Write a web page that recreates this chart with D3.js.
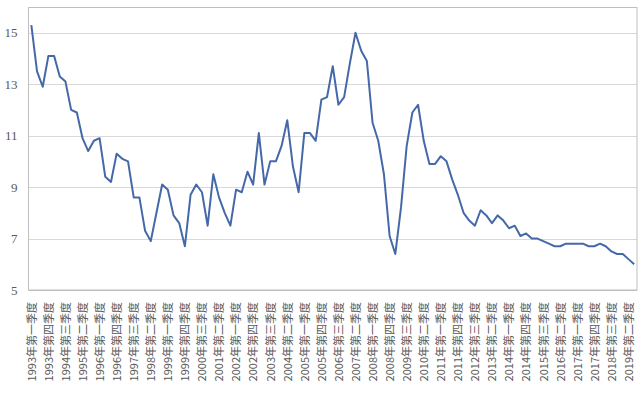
<!DOCTYPE html>
<html><head><meta charset="utf-8">
<script src="https://cdn.jsdelivr.net/npm/d3@7"></script>
<style>body{margin:0;background:#fff}svg{display:block}</style>
</head><body><svg id="c" width="643" height="396"></svg>
<script>
const years = d3.range(1993, 2020);
const quarterNames = ["一", "二", "三", "四"];
const categories = [];
years.forEach(y => quarterNames.forEach(q => categories.push(y + "年第" + q + "季度")));
categories.length = 107; // through 2019 Q3
const values = [
  15.3, 13.5, 12.9, 14.1, 14.1, 13.3, 13.1, 12.0, 11.9, 10.9,
  10.4, 10.8, 10.9, 9.4, 9.2, 10.3, 10.1, 10.0, 8.6, 8.6,
  7.3, 6.9, 8.0, 9.1, 8.9, 7.9, 7.6, 6.7, 8.7, 9.1,
  8.8, 7.5, 9.5, 8.6, 8.0, 7.5, 8.9, 8.8, 9.6, 9.1,
  11.1, 9.1, 10.0, 10.0, 10.6, 11.6, 9.8, 8.8, 11.1, 11.1,
  10.8, 12.4, 12.5, 13.7, 12.2, 12.5, 13.8, 15.0, 14.3, 13.9,
  11.5, 10.8, 9.5, 7.1, 6.4, 8.2, 10.6, 11.9, 12.2, 10.8,
  9.9, 9.9, 10.2, 10.0, 9.3, 8.7, 8.0, 7.7, 7.5, 8.1,
  7.9, 7.6, 7.9, 7.7, 7.4, 7.5, 7.1, 7.2, 7.0, 7.0,
  6.9, 6.8, 6.7, 6.7, 6.8, 6.8, 6.8, 6.8, 6.7, 6.7,
  6.8, 6.7, 6.5, 6.4, 6.4, 6.2, 6.0
];
const yTicks = [5, 7, 9, 11, 13, 15];
const labelEvery = 3;

const svg = d3.select("#c");
const L = 28.5, R = 637, T = 7, B = 290;
const x = d3.scalePoint().domain(categories).range([L, R]).padding(0.5);
const y = d3.scaleLinear().domain([5, 16]).range([B, T]);

// gridlines
svg.append("g").selectAll("line").data(yTicks.slice(1)).join("line")
  .attr("x1", L).attr("x2", R)
  .attr("y1", d => Math.round(y(d)) + 0.5).attr("y2", d => Math.round(y(d)) + 0.5)
  .attr("stroke", "#d9d9d9").attr("stroke-width", 1);

// plot border
svg.append("rect").attr("x", L).attr("y", T + 0.5).attr("width", R - L).attr("height", B - T - 0.5)
  .attr("fill", "none").attr("stroke", "#bfbfbf").attr("stroke-width", 1);
svg.append("line").attr("x1", L).attr("x2", R).attr("y1", B + 0.5).attr("y2", B + 0.5)
  .attr("stroke", "#bfbfbf");

// y axis labels
const yAxis = d3.axisLeft(y).tickValues(yTicks).tickSize(0).tickPadding(11);
const ya = svg.append("g").attr("transform", `translate(${L},0)`).call(yAxis);
ya.select(".domain").remove();
ya.selectAll("text").attr("font-family", "'Liberation Serif', 'Times New Roman', serif")
  .attr("font-size", 13).attr("fill", "#595959");

// x axis labels
const xAxis = d3.axisBottom(x).tickValues(categories.filter((d, i) => i % labelEvery === 0)).tickSize(0);
const xa = svg.append("g").attr("transform", `translate(0,${B})`).call(xAxis);
xa.select(".domain").remove();
xa.selectAll("text")
  .attr("font-family", "'Noto Sans CJK SC', sans-serif").attr("font-size", 11).attr("fill", "#595959")
  .attr("text-anchor", "end")
  .attr("transform", "rotate(-90)")
  .attr("x", -12).attr("y", 0).attr("dy", "0.35em");

// line
svg.append("path").datum(values)
  .attr("d", d3.line().x((d, i) => x(categories[i])).y(d => y(d)))
  .attr("fill", "none").attr("stroke", "#4569a8").attr("stroke-width", 2)
  .attr("stroke-linejoin", "round");
</script></body></html>
